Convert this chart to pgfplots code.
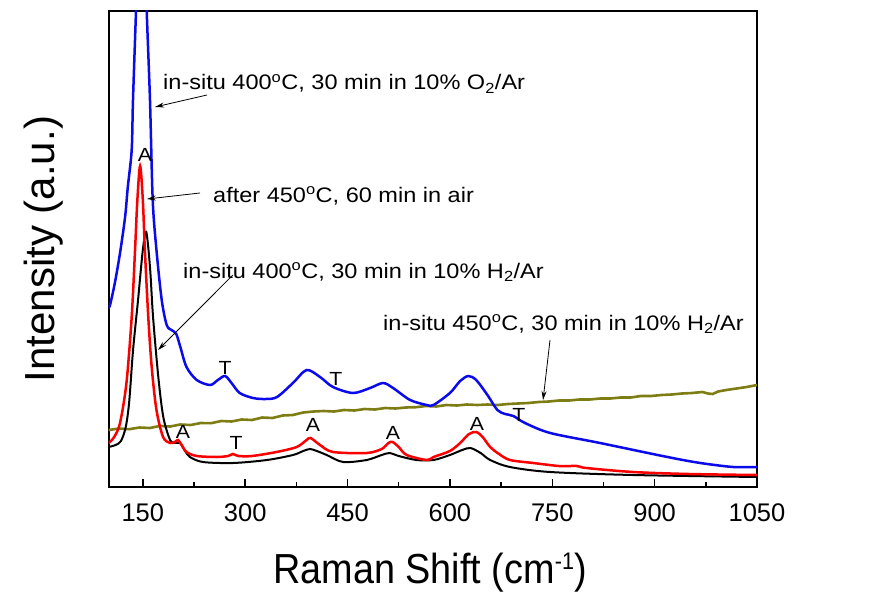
\documentclass[border=0pt]{standalone}
\usepackage{pgfplots}
\pgfplotsset{compat=1.18}
\usepackage{fontspec}
\setmainfont{Liberation Sans}
\newfontfamily\annfont[FakeStretch=1.12]{Liberation Sans}
\newfontfamily\labfont[FakeStretch=0.9]{Liberation Sans}
\usetikzlibrary{arrows.meta}
\definecolor{myblue}{RGB}{10,10,235}
\definecolor{myred}{RGB}{250,0,0}
\definecolor{myolive}{RGB}{125,125,20}
\begin{document}
\begin{tikzpicture}
\path[use as bounding box] (-108.7pt,-124pt) rectangle (761.3pt,487pt);
\begin{axis}[
  at={(0pt,0pt)}, anchor=south west,
  scale only axis, width=648.3pt, height=476pt,
  xmin=100, xmax=1050, ymin=0, ymax=476,
  axis line style={line width=2pt},
  ytick=\empty,
  xtick={150,300,450,600,750,900,1050},
  minor x tick num=1,
  xtick pos=bottom,
  tick align=inside,
  major tick length=8pt, minor tick length=5pt,
  every tick/.style={line width=1.5pt, black},
  /pgf/number format/.cd, 1000 sep={}, assume math mode=true,
  /pgfplots/.cd,
  xticklabel style={font=\fontsize{25.5}{30}\selectfont, inner sep=0pt, anchor=north, yshift=-16pt},
  xlabel={Raman Shift (cm\raisebox{14pt}{\fontsize{24}{28}\selectfont -1})},
  ylabel={Intensity (a.u.)},
  xlabel style={font=\labfont\fontsize{42}{48}\selectfont, at={(axis description cs:0.4956,-0.2017)}, anchor=base},
  ylabel style={font=\fontsize{42}{48}\selectfont, at={(axis description cs:-0.0998,0.5)}, anchor=center},
]
% olive: in-situ 450C H2/Ar
\addplot[color=myolive, line width=2.6pt] coordinates {
(100,57) (115,58.5) (130,57.8) (145,59.5) (160,59) (175,61) (190,60.5) (205,62.5) (220,62) (235,64) (250,63.8) (265,66) (280,65.5) (295,67.5) (310,67) (325,69.5) (340,69) (355,71.5) (370,72) (385,74.5) (400,75.5) (415,76) (430,75.5) (445,77) (460,76.5) (475,78) (490,77.5) (505,79) (520,78.5) (535,79.5) (550,79.8) (565,81) (580,80.5) (595,82) (610,81.5) (625,82.5) (640,82) (655,82.5) (670,82) (685,83) (700,83.5) (715,84) (730,85) (745,85.5) (760,86.5) (775,86.5) (790,87.5) (805,87.5) (820,88.5) (835,88.5) (850,89.5) (865,89.5) (880,91) (895,91) (910,92) (925,92.5) (940,93.5) (955,94) (970,95) (978,93.5) (985,93) (993,95.5) (1005,97) (1020,98.5) (1035,100) (1050,102)
};
% black: in-situ 400C H2/Ar
\addplot[color=black, line width=2pt, smooth] coordinates {
(100,40) (110,42) (118,46) (125,60) (130,85) (135.7,137) (143,187) (150,237) (155,255) (160.5,220) (165,170) (172.7,110) (180,70) (190,47) (198,44) (204.5,44) (212,36) (219,30) (238,25) (282,24) (332,27) (370,32) (385,36) (395,38) (405,36) (419.5,32) (443.5,25) (478,27) (500,32) (512,34) (525,31) (551,27) (576,27) (600,32) (618,37) (630,39) (645,34) (659,27) (688,20) (747,15) (868,12) (1050,10)
};
% red: after 450C air
\addplot[color=myred, line width=2.5pt, smooth] coordinates {
(100,44) (108,50) (116.6,64) (126,104) (133.7,170) (138.6,237) (142,287) (146,321) (150,287) (153,237) (158,170) (163,120) (170,77) (179.7,50) (190,44) (197,45) (201.6,47) (207,42) (214,35) (229,31) (258,30) (275,31) (282,33) (290,31) (310,31) (346,35) (375.5,40) (390,47) (396,49) (409.7,42) (428.7,35) (478,34) (500,38) (510,44) (516,45) (525,40) (536.7,32) (566,27) (576,30) (600,36) (615,44) (628,53) (639,55) (648,50) (659,40) (672,33) (688,27) (722,24) (760,21) (786,21) (800,19) (868,15) (950,13) (1050,12)
};
% blue: in-situ 400C O2/Ar
\addplot[color=myblue, line width=2.5pt, smooth] coordinates {
(100,180) (102,182) (109,204) (116.6,234) (124,270) (128,300) (133.7,337) (135.6,387) (140,476) (144,560) (148,620) (152,560) (155.7,476) (160.5,387) (164.5,287) (170,237) (177.7,187) (185,162) (192,157) (199,153) (205,140) (214,120) (229,107) (248.5,102) (260,107) (270.5,111) (280,104) (292,94) (311.5,89) (330,88) (346.7,90) (370,104) (390,117) (409.7,110) (428.7,100) (458,94) (483,99) (502,104) (516.7,99) (541.7,87) (566,82) (576,82) (600,94) (615,106) (627,111) (638.5,107) (655,92) (669.5,77) (681,73) (693,71) (710,64) (747,54) (820,44) (918.7,30) (967,24) (1015,20) (1050,20)
};
% annotations
\begin{scope}[every node/.style={font=\annfont\fontsize{21}{25}\selectfont, inner sep=0pt, anchor=base west}]
\node at (axis cs:179.6,397) {in-situ 400\textsuperscript{o}C, 30 min in 10\% O\textsubscript{2}/Ar};
\node at (axis cs:252.9,285) {after 450\textsuperscript{o}C, 60 min in air};
\node at (axis cs:208.9,209) {in-situ 400\textsuperscript{o}C, 30 min in 10\% H\textsubscript{2}/Ar};
\node at (axis cs:502,157) {in-situ 450\textsuperscript{o}C, 30 min in 10\% H\textsubscript{2}/Ar};
\end{scope}
\begin{scope}[-{Stealth[length=9pt,width=5pt]}, line width=0.8pt]
\draw (axis cs:244,392) -- (axis cs:167.9,380);
\draw (axis cs:233.8,294) -- (axis cs:156,288);
\draw (axis cs:282,212) -- (axis cs:172.3,137);
\draw (axis cs:746.7,147) -- (axis cs:736.5,87);
\end{scope}
\begin{scope}[every node/.style={font=\annfont\fontsize{19}{22}\selectfont, inner sep=0pt, anchor=center}]
\node at (axis cs:153,332) {A};
\node at (axis cs:209,55) {A};
\node at (axis cs:286.6,44) {T};
\node at (axis cs:399.4,62) {A};
\node at (axis cs:516.6,54) {A};
\node at (axis cs:639.7,63) {A};
\node at (axis cs:270.5,119) {T};
\node at (axis cs:433,108) {T};
\node at (axis cs:701.2,72) {T};
\end{scope}
\end{axis}
\end{tikzpicture}
\end{document}
